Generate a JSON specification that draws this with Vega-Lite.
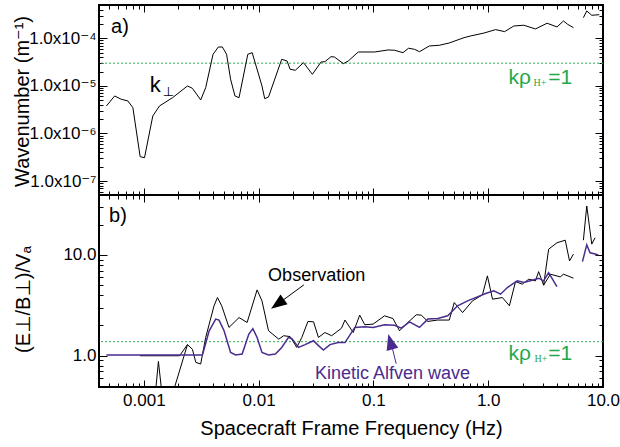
{
  "$schema": "https://vega.github.io/schema/vega-lite/v6.json",
  "background": "white",
  "padding": {"left": 10, "top": 3, "right": 5, "bottom": 5},
  "spacing": 0,
  "bounds": "flush",
  "config": {
    "font": "Liberation Sans, DejaVu Sans",
    "view": {"stroke": "black", "strokeWidth": 2},
    "axis": {"grid": false, "domain": false, "labelFont": "Liberation Sans, DejaVu Sans", "labelFontSize": 17, "labelColor": "black", "titleFont": "Liberation Sans, DejaVu Sans", "titleFontSize": 20, "titleFontWeight": "normal", "titleColor": "black", "tickColor": "black", "tickWidth": 1, "labelOverlap": false, "labelBound": false, "labelFlush": false}
  },
  "datasets": {
    "kperp": [
      {"f": 4.72e-4, "k": 3.78e-6, "seg": "a"},
      {"f": 5.57e-4, "k": 6.14e-6, "seg": "a"},
      {"f": 6.36e-4, "k": 5.23e-6, "seg": "a"},
      {"f": 7.27e-4, "k": 4.82e-6, "seg": "a"},
      {"f": 8.03e-4, "k": 3.48e-6, "seg": "a"},
      {"f": 9.29e-4, "k": 3.26e-7, "seg": "a"},
      {"f": 1.014e-3, "k": 3.10e-7, "seg": "a"},
      {"f": 1.197e-3, "k": 2.33e-6, "seg": "a"},
      {"f": 1.368e-3, "k": 3.78e-6, "seg": "a"},
      {"f": 1.78e-3, "k": 5.65e-6, "seg": "a"},
      {"f": 2.40e-3, "k": 9.95e-6, "seg": "a"},
      {"f": 2.65e-3, "k": 8.9e-6, "seg": "a"},
      {"f": 3.13e-3, "k": 5.06e-6, "seg": "a"},
      {"f": 3.46e-3, "k": 9.17e-6, "seg": "a"},
      {"f": 4.01e-3, "k": 4.61e-5, "seg": "a"},
      {"f": 4.46e-3, "k": 6.56e-5, "seg": "a"},
      {"f": 4.83e-3, "k": 6.56e-5, "seg": "a"},
      {"f": 5.26e-3, "k": 4.61e-5, "seg": "a"},
      {"f": 5.70e-3, "k": 1.38e-5, "seg": "a"},
      {"f": 6.22e-3, "k": 6.14e-6, "seg": "a"},
      {"f": 6.75e-3, "k": 5.65e-6, "seg": "a"},
      {"f": 8.05e-3, "k": 4.61e-5, "seg": "a"},
      {"f": 8.79e-3, "k": 4.98e-5, "seg": "a"},
      {"f": 1.07e-2, "k": 9.95e-6, "seg": "a"},
      {"f": 1.13e-2, "k": 5.38e-6, "seg": "a"},
      {"f": 1.22e-2, "k": 5.85e-6, "seg": "a"},
      {"f": 1.59e-2, "k": 3.62e-5, "seg": "a"},
      {"f": 1.77e-2, "k": 3.33e-5, "seg": "a"},
      {"f": 1.88e-2, "k": 2.23e-5, "seg": "a"},
      {"f": 2.09e-2, "k": 2.13e-5, "seg": "a"},
      {"f": 2.46e-2, "k": 3.07e-5, "seg": "a"},
      {"f": 2.94e-2, "k": 1.75e-5, "seg": "a"},
      {"f": 3.50e-2, "k": 3.18e-5, "seg": "a"},
      {"f": 3.78e-2, "k": 3.22e-5, "seg": "a"},
      {"f": 4.27e-2, "k": 4.10e-5, "seg": "a"},
      {"f": 4.57e-2, "k": 4.05e-5, "seg": "a"},
      {"f": 5.47e-2, "k": 2.93e-5, "seg": "a"},
      {"f": 6.04e-2, "k": 3.33e-5, "seg": "a"},
      {"f": 7.38e-2, "k": 5.15e-5, "seg": "a"},
      {"f": 0.1026, "k": 5.15e-5, "seg": "a"},
      {"f": 0.134, "k": 5.68e-5, "seg": "a"},
      {"f": 0.153, "k": 5.6e-5, "seg": "a"},
      {"f": 0.181, "k": 4.98e-5, "seg": "a"},
      {"f": 0.202, "k": 6.17e-5, "seg": "a"},
      {"f": 0.228, "k": 5.87e-5, "seg": "a"},
      {"f": 0.252, "k": 5.23e-5, "seg": "a"},
      {"f": 0.307, "k": 6.89e-5, "seg": "a"},
      {"f": 0.375, "k": 7.13e-5, "seg": "a"},
      {"f": 0.458, "k": 7.97e-5, "seg": "a"},
      {"f": 0.616, "k": 1.03e-4, "seg": "a"},
      {"f": 0.705, "k": 1.12e-4, "seg": "a"},
      {"f": 0.921, "k": 1.29e-4, "seg": "a"},
      {"f": 1.16, "k": 1.52e-4, "seg": "a"},
      {"f": 1.39, "k": 1.38e-4, "seg": "a"},
      {"f": 1.67, "k": 1.81e-4, "seg": "a"},
      {"f": 2.04, "k": 1.88e-4, "seg": "a"},
      {"f": 2.58, "k": 1.57e-4, "seg": "a"},
      {"f": 3.26, "k": 2.07e-4, "seg": "a"},
      {"f": 3.97, "k": 1.73e-4, "seg": "a"},
      {"f": 4.53, "k": 2.31e-4, "seg": "a"},
      {"f": 4.91, "k": 1.97e-4, "seg": "a"},
      {"f": 5.53, "k": 1.67e-4, "seg": "a"},
      {"f": 6.75, "k": 2.71e-4, "seg": "b"},
      {"f": 7.22, "k": 3.75e-4, "seg": "b"},
      {"f": 7.98, "k": 3.04e-4, "seg": "b"},
      {"f": 9.29, "k": 3.13e-4, "seg": "b"}
    ],
    "obs": [
      {"f": 0.000924, "r": 1.0, "seg": "a"},
      {"f": 0.00205, "r": 1.0, "seg": "a"},
      {"f": 0.00240, "r": 1.29, "seg": "a"},
      {"f": 0.00265, "r": 1.16, "seg": "a"},
      {"f": 0.00284, "r": 0.859, "seg": "a"},
      {"f": 0.00313, "r": 0.828, "seg": "a"},
      {"f": 0.00346, "r": 1.52, "seg": "a"},
      {"f": 0.00409, "r": 3.13, "seg": "a"},
      {"f": 0.00438, "r": 3.78, "seg": "a"},
      {"f": 0.00477, "r": 3.13, "seg": "a"},
      {"f": 0.00552, "r": 1.91, "seg": "a"},
      {"f": 0.00675, "r": 2.39, "seg": "a"},
      {"f": 0.00794, "r": 2.14, "seg": "a"},
      {"f": 0.00970, "r": 4.50, "seg": "a"},
      {"f": 0.0107, "r": 3.50, "seg": "a"},
      {"f": 0.0122, "r": 1.77, "seg": "a"},
      {"f": 0.0150, "r": 1.46, "seg": "a"},
      {"f": 0.0165, "r": 1.58, "seg": "a"},
      {"f": 0.0188, "r": 1.55, "seg": "a"},
      {"f": 0.0215, "r": 1.21, "seg": "a"},
      {"f": 0.0238, "r": 1.52, "seg": "a"},
      {"f": 0.0269, "r": 2.19, "seg": "a"},
      {"f": 0.0301, "r": 2.17, "seg": "a"},
      {"f": 0.0332, "r": 1.52, "seg": "a"},
      {"f": 0.0378, "r": 1.70, "seg": "a"},
      {"f": 0.0433, "r": 1.58, "seg": "a"},
      {"f": 0.0528, "r": 1.88, "seg": "a"},
      {"f": 0.0565, "r": 2.26, "seg": "a"},
      {"f": 0.0667, "r": 1.70, "seg": "a"},
      {"f": 0.0760, "r": 2.53, "seg": "a"},
      {"f": 0.0841, "r": 2.03, "seg": "a"},
      {"f": 0.0993, "r": 2.06, "seg": "a"},
      {"f": 0.125, "r": 2.49, "seg": "a"},
      {"f": 0.148, "r": 2.34, "seg": "a"},
      {"f": 0.169, "r": 1.77, "seg": "a"},
      {"f": 0.193, "r": 2.06, "seg": "a"},
      {"f": 0.236, "r": 2.55, "seg": "a"},
      {"f": 0.261, "r": 2.53, "seg": "a"},
      {"f": 0.298, "r": 2.19, "seg": "a"},
      {"f": 0.363, "r": 2.26, "seg": "a"},
      {"f": 0.458, "r": 2.26, "seg": "a"},
      {"f": 0.506, "r": 3.37, "seg": "a"},
      {"f": 0.598, "r": 2.68, "seg": "a"},
      {"f": 0.729, "r": 3.50, "seg": "a"},
      {"f": 0.891, "r": 4.02, "seg": "a"},
      {"f": 0.984, "r": 6.20, "seg": "a"},
      {"f": 1.09, "r": 3.64, "seg": "a"},
      {"f": 1.33, "r": 3.78, "seg": "a"},
      {"f": 1.53, "r": 3.13, "seg": "a"},
      {"f": 1.73, "r": 5.44, "seg": "a"},
      {"f": 1.98, "r": 5.13, "seg": "a"},
      {"f": 2.26, "r": 5.75, "seg": "a"},
      {"f": 2.58, "r": 5.53, "seg": "a"},
      {"f": 2.75, "r": 6.83, "seg": "a"},
      {"f": 3.04, "r": 5.01, "seg": "a"},
      {"f": 3.48, "r": 6.44, "seg": "a"},
      {"f": 4.24, "r": 6.06, "seg": "a"},
      {"f": 4.53, "r": 6.44, "seg": "a"},
      {"f": 5.53, "r": 5.88, "seg": "a"},
      {"f": 3.04, "r": 5.01, "seg": "b"},
      {"f": 3.36, "r": 11.4, "seg": "b"},
      {"f": 3.97, "r": 13.2, "seg": "b"},
      {"f": 4.69, "r": 14.0, "seg": "b"},
      {"f": 5.11, "r": 8.72, "seg": "b"},
      {"f": 5.53, "r": 10.2, "seg": "b"},
      {"f": 6.75, "r": 14.0, "seg": "c"},
      {"f": 7.22, "r": 30.6, "seg": "c"},
      {"f": 7.98, "r": 12.8, "seg": "c"},
      {"f": 8.53, "r": 14.8, "seg": "c"},
      {"f": 0.001245, "r": 0.36, "seg": "d"},
      {"f": 0.00134, "r": 0.879, "seg": "d"},
      {"f": 0.00146, "r": 0.36, "seg": "d"},
      {"f": 0.00171, "r": 0.36, "seg": "e"},
      {"f": 0.00240, "r": 1.29, "seg": "e"}
    ],
    "kaw": [
      {"f": 4.72e-4, "r": 1.02, "seg": "a"},
      {"f": 9.18e-4, "r": 1.02, "seg": "a"},
      {"f": 3.24e-3, "r": 1.02, "seg": "a"},
      {"f": 3.71e-3, "r": 1.77, "seg": "a"},
      {"f": 4.23e-3, "r": 2.31, "seg": "a"},
      {"f": 4.52e-3, "r": 2.26, "seg": "a"},
      {"f": 5.00e-3, "r": 1.77, "seg": "a"},
      {"f": 5.70e-3, "r": 1.08, "seg": "a"},
      {"f": 6.30e-3, "r": 1.02, "seg": "a"},
      {"f": 7.19e-3, "r": 1.04, "seg": "a"},
      {"f": 8.22e-3, "r": 1.64, "seg": "a"},
      {"f": 8.91e-3, "r": 1.86, "seg": "a"},
      {"f": 9.70e-3, "r": 1.52, "seg": "a"},
      {"f": 1.07e-2, "r": 1.08, "seg": "a"},
      {"f": 1.22e-2, "r": 1.02, "seg": "a"},
      {"f": 1.40e-2, "r": 1.04, "seg": "a"},
      {"f": 1.59e-2, "r": 1.21, "seg": "a"},
      {"f": 1.82e-2, "r": 1.52, "seg": "a"},
      {"f": 1.95e-2, "r": 1.48, "seg": "a"},
      {"f": 2.23e-2, "r": 1.21, "seg": "a"},
      {"f": 2.54e-2, "r": 1.29, "seg": "a"},
      {"f": 3.01e-2, "r": 1.41, "seg": "a"},
      {"f": 3.32e-2, "r": 1.26, "seg": "a"},
      {"f": 3.67e-2, "r": 1.14, "seg": "a"},
      {"f": 4.19e-2, "r": 1.29, "seg": "a"},
      {"f": 4.94e-2, "r": 1.35, "seg": "a"},
      {"f": 5.65e-2, "r": 1.35, "seg": "a"},
      {"f": 6.89e-2, "r": 1.91, "seg": "a"},
      {"f": 8.41e-2, "r": 1.94, "seg": "a"},
      {"f": 9.93e-2, "r": 1.91, "seg": "a"},
      {"f": 0.125, "r": 2.03, "seg": "a"},
      {"f": 0.153, "r": 2.01, "seg": "a"},
      {"f": 0.175, "r": 1.88, "seg": "a"},
      {"f": 0.206, "r": 2.17, "seg": "a"},
      {"f": 0.252, "r": 1.91, "seg": "a"},
      {"f": 0.298, "r": 2.31, "seg": "a"},
      {"f": 0.363, "r": 2.34, "seg": "a"},
      {"f": 0.444, "r": 2.49, "seg": "a"},
      {"f": 0.541, "r": 3.13, "seg": "a"},
      {"f": 0.661, "r": 3.50, "seg": "a"},
      {"f": 0.805, "r": 3.84, "seg": "a"},
      {"f": 0.951, "r": 4.14, "seg": "a"},
      {"f": 1.12, "r": 4.40, "seg": "a"},
      {"f": 1.28, "r": 4.08, "seg": "a"},
      {"f": 1.47, "r": 4.75, "seg": "a"},
      {"f": 1.79, "r": 5.53, "seg": "a"},
      {"f": 2.04, "r": 5.32, "seg": "a"},
      {"f": 2.41, "r": 5.62, "seg": "a"},
      {"f": 2.75, "r": 5.88, "seg": "a"},
      {"f": 3.04, "r": 5.53, "seg": "a"},
      {"f": 3.36, "r": 6.68, "seg": "a"},
      {"f": 3.97, "r": 4.86, "seg": "a"},
      {"f": 6.62, "r": 8.59, "seg": "b"},
      {"f": 7.22, "r": 12.6, "seg": "b"},
      {"f": 7.71, "r": 10.5, "seg": "b"},
      {"f": 8.53, "r": 10.2, "seg": "b"},
      {"f": 9.11, "r": 10.0, "seg": "b"}
    ]
  },
  "vconcat": [
    {
      "width": 504,
      "height": 190,
      "resolve": {"axis": {"x": "independent", "y": "independent"}},
      "layer": [
        {
          "data": {"values": [{"k": 3.0e-5}]},
          "mark": {"type": "rule", "color": "#2bb050", "strokeDash": [2, 2], "strokeWidth": 1},
          "encoding": {
            "y": {"field": "k", "type": "quantitative", "scale": {"type": "log", "domain": [5.1e-8, 5.0e-4], "nice": false}, "axis": null}
          }
        },
        {
          "data": {"name": "kperp"},
          "mark": {"type": "line", "color": "black", "strokeWidth": 1, "clip": true},
          "encoding": {
            "x": {"field": "f", "type": "quantitative", "scale": {"type": "log", "domain": [4.07e-4, 10], "nice": false},
              "axis": {"orient": "bottom", "values": [0.001, 0.01, 0.1, 1, 10], "labels": false, "title": null, "tickSize": -7}},
            "y": {"field": "k", "type": "quantitative", "scale": {"type": "log", "domain": [5.1e-8, 5.0e-4], "nice": false},
              "axis": {"orient": "left", "values": [1e-7, 1e-6, 1e-5, 1e-4],
                "labelExpr": "datum.value == 1e-4 ? '1.0x10⁻⁴' : datum.value == 1e-5 ? '1.0x10⁻⁵' : datum.value == 1e-6 ? '1.0x10⁻⁶' : '1.0x10⁻⁷'",
                "tickSize": -8, "labelPadding": 11,
                "title": "Wavenumber (m⁻¹)", "titleX": -77, "titleY": 96, "titleAngle": -90, "titleAlign": "center", "titleBaseline": "middle"}},
            "detail": {"field": "seg"}
          }
        },
        {
          "data": {"values": [{"f": 5.18e-4, "k": 1.73e-4, "t": "a)"}]},
          "mark": {"type": "text", "align": "left", "baseline": "middle", "fontSize": 20, "color": "black"},
          "encoding": {
            "x": {"field": "f", "type": "quantitative", "scale": {"type": "log", "domain": [4.07e-4, 10], "nice": false},
              "axis": {"orient": "top", "values": [0.001, 0.01, 0.1, 1, 10], "labels": false, "title": null, "tickSize": -7}},
            "y": {"field": "k", "type": "quantitative", "scale": {"type": "log", "domain": [5.1e-8, 5.0e-4], "nice": false},
              "axis": {"orient": "right", "values": [1e-7, 1e-6, 1e-5, 1e-4], "labels": false, "title": null, "tickSize": -8}},
            "text": {"field": "t"}
          }
        },
        {
          "data": {"values": [{"f": 1.127e-3, "k": 1.04e-5, "t": "k"}]},
          "mark": {"type": "text", "align": "left", "baseline": "middle", "fontSize": 22, "color": "black"},
          "encoding": {
            "x": {"field": "f", "type": "quantitative", "scale": {"type": "log", "domain": [4.07e-4, 10], "nice": false},
              "axis": {"orient": "bottom", "values": [5e-4,6e-4,7e-4,8e-4,9e-4,0.002,0.003,0.004,0.005,0.006,0.007,0.008,0.009,0.02,0.03,0.04,0.05,0.06,0.07,0.08,0.09,0.2,0.3,0.4,0.5,0.6,0.7,0.8,0.9,2,3,4,5,6,7,8,9], "labels": false, "title": null, "tickSize": -4}},
            "y": {"field": "k", "type": "quantitative", "scale": {"type": "log", "domain": [5.1e-8, 5.0e-4], "nice": false},
              "axis": {"orient": "left", "values": [6e-8,7e-8,8e-8,9e-8,2e-7,3e-7,4e-7,5e-7,6e-7,7e-7,8e-7,9e-7,2e-6,3e-6,4e-6,5e-6,6e-6,7e-6,8e-6,9e-6,2e-5,3e-5,4e-5,5e-5,6e-5,7e-5,8e-5,9e-5,2e-4,3e-4,4e-4], "labels": false, "title": null, "tickSize": -4}},
            "text": {"field": "t"}
          }
        },
        {
          "data": {"values": [{"f": 1.46e-3, "k": 7.45e-6, "t": "⊥"}]},
          "mark": {"type": "text", "align": "left", "baseline": "middle", "fontSize": 13, "color": "black"},
          "encoding": {
            "x": {"field": "f", "type": "quantitative", "scale": {"type": "log", "domain": [4.07e-4, 10], "nice": false},
              "axis": {"orient": "top", "values": [5e-4,6e-4,7e-4,8e-4,9e-4,0.002,0.003,0.004,0.005,0.006,0.007,0.008,0.009,0.02,0.03,0.04,0.05,0.06,0.07,0.08,0.09,0.2,0.3,0.4,0.5,0.6,0.7,0.8,0.9,2,3,4,5,6,7,8,9], "labels": false, "title": null, "tickSize": -4}},
            "y": {"field": "k", "type": "quantitative", "scale": {"type": "log", "domain": [5.1e-8, 5.0e-4], "nice": false},
              "axis": {"orient": "right", "values": [6e-8,7e-8,8e-8,9e-8,2e-7,3e-7,4e-7,5e-7,6e-7,7e-7,8e-7,9e-7,2e-6,3e-6,4e-6,5e-6,6e-6,7e-6,8e-6,9e-6,2e-5,3e-5,4e-5,5e-5,6e-5,7e-5,8e-5,9e-5,2e-4,3e-4,4e-4], "labels": false, "title": null, "tickSize": -4}},
            "text": {"field": "t"}
          }
        },
        {
          "data": {"values": [{"f": 1.50, "k": 1.47e-5, "t": "kρ"}, {"f": 3.34, "k": 1.47e-5, "t": "=1"}]},
          "mark": {"type": "text", "align": "left", "baseline": "middle", "fontSize": 21, "color": "#1fa84a"},
          "encoding": {
            "x": {"field": "f", "type": "quantitative", "scale": {"type": "log", "domain": [4.07e-4, 10], "nice": false}, "axis": null},
            "y": {"field": "k", "type": "quantitative", "scale": {"type": "log", "domain": [5.1e-8, 5.0e-4], "nice": false}, "axis": null},
            "text": {"field": "t"}
          }
        },
        {
          "data": {"values": [{"f": 2.48, "k": 1.15e-5, "t": "H+"}]},
          "mark": {"type": "text", "align": "left", "baseline": "middle", "fontSize": 10, "font": "Liberation Serif", "color": "#1fa84a"},
          "encoding": {
            "x": {"field": "f", "type": "quantitative", "scale": {"type": "log", "domain": [4.07e-4, 10], "nice": false}, "axis": null},
            "y": {"field": "k", "type": "quantitative", "scale": {"type": "log", "domain": [5.1e-8, 5.0e-4], "nice": false}, "axis": null},
            "text": {"field": "t"}
          }
        }
      ]
    },
    {
      "width": 504,
      "height": 192,
      "resolve": {"axis": {"x": "independent", "y": "independent"}},
      "layer": [
        {
          "data": {"values": [{"r": 1.38}]},
          "mark": {"type": "rule", "color": "#2bb050", "strokeDash": [2, 2], "strokeWidth": 1},
          "encoding": {
            "y": {"field": "r", "type": "quantitative", "scale": {"type": "log", "domain": [0.49, 39.3], "nice": false}, "axis": null}
          }
        },
        {
          "data": {"name": "obs"},
          "mark": {"type": "line", "color": "black", "strokeWidth": 1, "clip": true},
          "encoding": {
            "x": {"field": "f", "type": "quantitative", "scale": {"type": "log", "domain": [4.07e-4, 10], "nice": false},
              "axis": {"orient": "bottom", "values": [0.001, 0.01, 0.1, 1, 10],
                "labelExpr": "datum.value == 0.001 ? '0.001' : datum.value == 0.01 ? '0.01' : datum.value == 0.1 ? '0.1' : datum.value == 1 ? '1.0' : '10.0'",
                "tickSize": -7, "labelPadding": 12,
                "title": "Spacecraft Frame Frequency (Hz)", "titlePadding": 10}},
            "y": {"field": "r", "type": "quantitative", "scale": {"type": "log", "domain": [0.49, 39.3], "nice": false},
              "axis": {"orient": "left", "values": [1, 10],
                "labelExpr": "datum.value == 1 ? '1.0' : '10.0'",
                "tickSize": -8, "labelPadding": 11,
                "title": "(E⊥/B⊥)/Vₐ", "titleX": -76, "titleY": 104, "titleAngle": -90, "titleAlign": "center", "titleBaseline": "middle"}},
            "detail": {"field": "seg"}
          }
        },
        {
          "data": {"name": "kaw"},
          "mark": {"type": "line", "color": "#4a2b8e", "strokeWidth": 1.5, "clip": true},
          "encoding": {
            "x": {"field": "f", "type": "quantitative", "scale": {"type": "log", "domain": [4.07e-4, 10], "nice": false},
              "axis": {"orient": "top", "values": [0.001, 0.01, 0.1, 1, 10], "labels": false, "title": null, "tickSize": -7}},
            "y": {"field": "r", "type": "quantitative", "scale": {"type": "log", "domain": [0.49, 39.3], "nice": false},
              "axis": {"orient": "right", "values": [1, 10], "labels": false, "title": null, "tickSize": -8}},
            "detail": {"field": "seg"}
          }
        },
        {
          "data": {"values": [{"f": 4.98e-4, "r": 24.3, "t": "b)"}]},
          "mark": {"type": "text", "align": "left", "baseline": "middle", "fontSize": 20, "color": "black"},
          "encoding": {
            "x": {"field": "f", "type": "quantitative", "scale": {"type": "log", "domain": [4.07e-4, 10], "nice": false},
              "axis": {"orient": "bottom", "values": [5e-4,6e-4,7e-4,8e-4,9e-4,0.002,0.003,0.004,0.005,0.006,0.007,0.008,0.009,0.02,0.03,0.04,0.05,0.06,0.07,0.08,0.09,0.2,0.3,0.4,0.5,0.6,0.7,0.8,0.9,2,3,4,5,6,7,8,9], "labels": false, "title": null, "tickSize": -4}},
            "y": {"field": "r", "type": "quantitative", "scale": {"type": "log", "domain": [0.49, 39.3], "nice": false},
              "axis": {"orient": "left", "values": [0.5,0.6,0.7,0.8,0.9,2,3,4,5,6,7,8,9,20,30], "labels": false, "title": null, "tickSize": -4}},
            "text": {"field": "t"}
          }
        },
        {
          "data": {"values": [{"f": 1.21e-2, "r": 6.20, "t": "Observation"}]},
          "mark": {"type": "text", "align": "left", "baseline": "middle", "fontSize": 18, "color": "black"},
          "encoding": {
            "x": {"field": "f", "type": "quantitative", "scale": {"type": "log", "domain": [4.07e-4, 10], "nice": false},
              "axis": {"orient": "top", "values": [5e-4,6e-4,7e-4,8e-4,9e-4,0.002,0.003,0.004,0.005,0.006,0.007,0.008,0.009,0.02,0.03,0.04,0.05,0.06,0.07,0.08,0.09,0.2,0.3,0.4,0.5,0.6,0.7,0.8,0.9,2,3,4,5,6,7,8,9], "labels": false, "title": null, "tickSize": -4}},
            "y": {"field": "r", "type": "quantitative", "scale": {"type": "log", "domain": [0.49, 39.3], "nice": false},
              "axis": {"orient": "right", "values": [0.5,0.6,0.7,0.8,0.9,2,3,4,5,6,7,8,9,20,30], "labels": false, "title": null, "tickSize": -4}},
            "text": {"field": "t"}
          }
        },
        {
          "data": {"values": [{"f": 0.031, "r": 0.663, "t": "Kinetic Alfven wave"}]},
          "mark": {"type": "text", "align": "left", "baseline": "middle", "fontSize": 18, "color": "#4a2b8e"},
          "encoding": {
            "x": {"field": "f", "type": "quantitative", "scale": {"type": "log", "domain": [4.07e-4, 10], "nice": false}, "axis": null},
            "y": {"field": "r", "type": "quantitative", "scale": {"type": "log", "domain": [0.49, 39.3], "nice": false}, "axis": null},
            "text": {"field": "t"}
          }
        },
        {
          "data": {"values": [{"f": 1.50, "r": 1.05, "t": "kρ"}, {"f": 3.34, "r": 1.05, "t": "=1"}]},
          "mark": {"type": "text", "align": "left", "baseline": "middle", "fontSize": 21, "color": "#1fa84a"},
          "encoding": {
            "x": {"field": "f", "type": "quantitative", "scale": {"type": "log", "domain": [4.07e-4, 10], "nice": false}, "axis": null},
            "y": {"field": "r", "type": "quantitative", "scale": {"type": "log", "domain": [0.49, 39.3], "nice": false}, "axis": null},
            "text": {"field": "t"}
          }
        },
        {
          "data": {"values": [{"f": 2.53, "r": 0.934, "t": "H+"}]},
          "mark": {"type": "text", "align": "left", "baseline": "middle", "fontSize": 10, "font": "Liberation Serif", "color": "#1fa84a"},
          "encoding": {
            "x": {"field": "f", "type": "quantitative", "scale": {"type": "log", "domain": [4.07e-4, 10], "nice": false}, "axis": null},
            "y": {"field": "r", "type": "quantitative", "scale": {"type": "log", "domain": [0.49, 39.3], "nice": false}, "axis": null},
            "text": {"field": "t"}
          }
        },
        {
          "data": {"values": [{"f": 2.48e-2, "r": 5.05, "f2": 1.51e-2, "r2": 3.34}]},
          "mark": {"type": "rule", "color": "black", "strokeWidth": 1},
          "encoding": {
            "x": {"field": "f", "type": "quantitative", "scale": {"type": "log", "domain": [4.07e-4, 10], "nice": false}, "axis": null},
            "y": {"field": "r", "type": "quantitative", "scale": {"type": "log", "domain": [0.49, 39.3], "nice": false}, "axis": null},
            "x2": {"field": "f2"},
            "y2": {"field": "r2"}
          }
        },
        {
          "data": {"values": [{"f": 1.51e-2, "r": 3.34}]},
          "mark": {"type": "point", "shape": "M0,-1L0.6,0.6L-0.6,0.6Z", "filled": true, "color": "black", "opacity": 1, "size": 400, "angle": 234},
          "encoding": {
            "x": {"field": "f", "type": "quantitative", "scale": {"type": "log", "domain": [4.07e-4, 10], "nice": false}, "axis": null},
            "y": {"field": "r", "type": "quantitative", "scale": {"type": "log", "domain": [0.49, 39.3], "nice": false}, "axis": null}
          }
        },
        {
          "data": {"values": [{"f": 0.158, "r": 0.833, "f2": 0.143, "r2": 1.315}]},
          "mark": {"type": "rule", "color": "#4a2b8e", "strokeWidth": 1},
          "encoding": {
            "x": {"field": "f", "type": "quantitative", "scale": {"type": "log", "domain": [4.07e-4, 10], "nice": false}, "axis": null},
            "y": {"field": "r", "type": "quantitative", "scale": {"type": "log", "domain": [0.49, 39.3], "nice": false}, "axis": null},
            "x2": {"field": "f2"},
            "y2": {"field": "r2"}
          }
        },
        {
          "data": {"values": [{"f": 0.142, "r": 1.32}]},
          "mark": {"type": "point", "shape": "M0,-1L0.6,0.6L-0.6,0.6Z", "filled": true, "color": "#4a2b8e", "opacity": 1, "size": 400, "angle": 345},
          "encoding": {
            "x": {"field": "f", "type": "quantitative", "scale": {"type": "log", "domain": [4.07e-4, 10], "nice": false}, "axis": null},
            "y": {"field": "r", "type": "quantitative", "scale": {"type": "log", "domain": [0.49, 39.3], "nice": false}, "axis": null}
          }
        }
      ]
    }
  ]
}
